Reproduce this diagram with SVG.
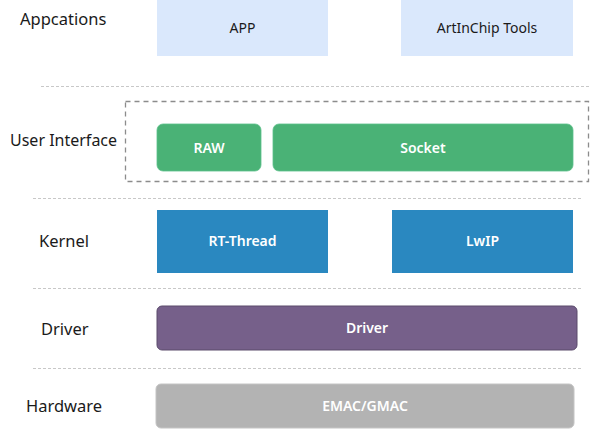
<svg xmlns="http://www.w3.org/2000/svg" width="591" height="429" viewBox="0 0 591 429">
<style>
.lbl{font-family:"Noto Sans","Open Sans","Liberation Sans",sans-serif;font-size:16.5px;fill:#1a1a1a}
.t{font-family:"Noto Sans","Open Sans","Liberation Sans",sans-serif;font-size:14px;text-anchor:middle}
.w{fill:#ffffff;font-weight:600}
.k{fill:#1a1a1a}
.sep{stroke:#c8c8c8;stroke-width:1;stroke-dasharray:3 2;fill:none}
</style>
<rect width="591" height="429" fill="#ffffff"/>
<g id="labels">
<text class="lbl" x="20" y="25">Appcations</text>
<text class="lbl" x="10" y="146" style="font-size:16px">User Interface</text>
<text class="lbl" x="39" y="247">Kernel</text>
<text class="lbl" x="41" y="335">Driver</text>
<text class="lbl" x="26" y="412">Hardware</text>
</g>
<g id="connectors">
<line class="sep" x1="41" y1="86.5" x2="589" y2="86.5"/>
<line class="sep" x1="33" y1="198.5" x2="581" y2="198.5"/>
<line class="sep" x1="33" y1="288.5" x2="582" y2="288.5"/>
<line class="sep" x1="33" y1="368.5" x2="582" y2="368.5"/>
</g>
<g id="ui-frame"><rect x="125.5" y="101.5" width="463" height="80" fill="none" stroke="#8c8c8c" stroke-width="1.3" stroke-dasharray="5 4"/></g>
<g id="app"><rect x="157" y="0" width="171" height="56" fill="#dae8fc"/><text class="t k" x="242.5" y="33">APP</text></g>
<g id="tools"><rect x="401" y="0" width="172" height="56" fill="#dae8fc"/><text class="t k" x="487" y="33">ArtInChip Tools</text></g>
<g id="raw"><rect x="157" y="124" width="104" height="47" rx="6" fill="#4ab276" stroke="#5cc08a" stroke-width="0.8"/><text class="t w" x="209" y="153">RAW</text></g>
<g id="socket"><rect x="273" y="124" width="300" height="47" rx="6" fill="#4ab276" stroke="#5cc08a" stroke-width="0.8"/><text class="t w" x="423" y="153">Socket</text></g>
<g id="rtthread"><rect x="157" y="210" width="171" height="63" fill="#2a88c0"/><text class="t w" x="242.5" y="246">RT-Thread</text></g>
<g id="lwip"><rect x="392" y="210" width="181" height="63" fill="#2a88c0"/><text class="t w" x="482.5" y="246">LwIP</text></g>
<g id="driver"><rect x="157" y="306" width="420" height="44" rx="5" fill="#76608a" stroke="#5a4a6b" stroke-width="1"/><text class="t w" x="367" y="333">Driver</text></g>
<g id="hardware"><rect x="156" y="384" width="418" height="44" rx="5" fill="#b3b3b3" stroke="#c4c4c4" stroke-width="1"/><text class="t w" x="365" y="411">EMAC/GMAC</text></g>
</svg>
